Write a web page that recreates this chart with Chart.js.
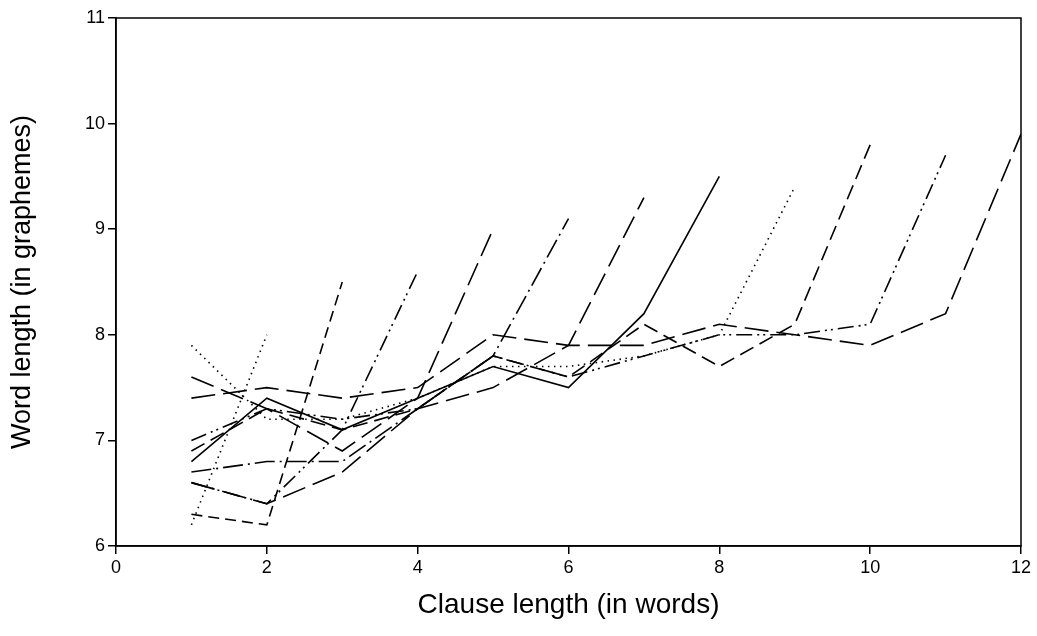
<!DOCTYPE html>
<html>
<head>
<meta charset="utf-8">
<script src="https://cdn.jsdelivr.net/npm/chart.js@4/dist/chart.umd.min.js"></script>
<style>
  html, body { margin: 0; padding: 0; background: #ffffff; }
  canvas { display: block; }
</style>
</head>
<body>
<canvas id="c" width="1037" height="636"></canvas>
<script>
// Mean word length by position for clauses of length 2..12 words
const xTicks = [0, 2, 4, 6, 8, 10, 12];
const yTicks = [6, 7, 8, 9, 10, 11];
const len2  = [6.2, 8.0];
const len3  = [6.3, 6.2, 8.5];
const len4  = [6.6, 6.4, 7.1, 8.6];
const len5  = [7.6, 7.3, 6.9, 7.4, 9.0];
const len6  = [6.7, 6.8, 6.8, 7.3, 7.8, 9.1];
const len7  = [6.6, 6.4, 6.7, 7.3, 7.5, 7.9, 9.3];
const len8  = [6.8, 7.4, 7.1, 7.4, 7.7, 7.5, 8.2, 9.5];
const len9  = [7.9, 7.2, 7.2, 7.4, 7.7, 7.7, 7.8, 8.0, 9.4];
const len10 = [6.9, 7.3, 7.1, 7.3, 7.8, 7.6, 8.1, 7.7, 8.1, 9.8];
const len11 = [7.0, 7.3, 7.2, 7.3, 7.8, 7.6, 7.8, 8.0, 8.0, 8.1, 9.7];
const len12 = [7.4, 7.5, 7.4, 7.5, 8.0, 7.9, 7.9, 8.1, 8.0, 7.9, 8.2, 9.9];

const DOT = [1.5, 4.5];
const SHORT = [11, 6];
const MED = [15, 7];
const LONG = [24, 8];
const DASHDOT = [20, 5, 2, 5];
const DASHDOTDOT = [16, 5, 2, 4, 2, 5];
const SOLID = [];

const seriesList = [
  {label: '2', values: len2, dash: DOT},
  {label: '3', values: len3, dash: SHORT},
  {label: '4', values: len4, dash: DASHDOTDOT},
  {label: '5', values: len5, dash: LONG},
  {label: '6', values: len6, dash: DASHDOT},
  {label: '7', values: len7, dash: LONG},
  {label: '8', values: len8, dash: SOLID},
  {label: '9', values: len9, dash: DOT},
  {label: '10', values: len10, dash: MED},
  {label: '11', values: len11, dash: DASHDOTDOT},
  {label: '12', values: len12, dash: LONG}
];

const datasets = seriesList.map(s => ({
  label: s.label,
  data: s.values.map((v, i) => ({x: i + 1, y: v})),
  borderColor: '#000000',
  borderWidth: 1.6,
  borderDash: s.dash,
  pointRadius: 0,
  fill: false,
  tension: 0
}));

const framePlugin = {
  id: 'frame',
  afterDraw(chart) {
    const a = chart.chartArea;
    const ctx = chart.ctx;
    ctx.save();
    ctx.strokeStyle = '#000000';
    ctx.lineWidth = 1.5;
    ctx.setLineDash([]);
    ctx.strokeRect(a.left, a.top, a.right - a.left, a.bottom - a.top);
    ctx.restore();
  }
};

const FONT = 'Liberation Sans, Arial, sans-serif';

new Chart(document.getElementById('c'), {
  type: 'line',
  data: { datasets },
  plugins: [framePlugin],
  options: {
    responsive: false,
    animation: false,
    devicePixelRatio: 1,
    layout: { padding: { top: 18, right: 16, left: 0, bottom: 0 } },
    plugins: { legend: { display: false }, tooltip: { enabled: false } },
    scales: {
      x: {
        type: 'linear',
        min: 0, max: 12,
        afterBuildTicks: (scale) => { scale.ticks = xTicks.map(v => ({value: v})); },
        afterFit: (scale) => { scale.height = 90; },
        ticks: { color: '#000', font: { family: FONT, size: 18 }, padding: 3, maxRotation: 0 },
        grid: { drawOnChartArea: false, drawTicks: true, tickLength: 8, color: '#000', lineWidth: 1.5 },
        border: { display: true, color: '#000', width: 1.5 },
        title: { display: true, text: 'Clause length (in words)', color: '#000',
                 font: { family: FONT, size: 28 }, padding: { top: 0, bottom: 14 } }
      },
      y: {
        type: 'linear',
        min: 6, max: 11,
        afterBuildTicks: (scale) => { scale.ticks = yTicks.map(v => ({value: v})); },
        afterFit: (scale) => { scale.width = 116; },
        ticks: { color: '#000', font: { family: FONT, size: 18 }, padding: 3 },
        grid: { drawOnChartArea: false, drawTicks: true, tickLength: 8, color: '#000', lineWidth: 1.5 },
        border: { display: true, color: '#000', width: 1.5 },
        title: { display: true, text: 'Word length (in graphemes)', color: '#000',
                 font: { family: FONT, size: 27 }, padding: { top: 6, bottom: 0 } }
      }
    }
  }
});
</script>
</body>
</html>
